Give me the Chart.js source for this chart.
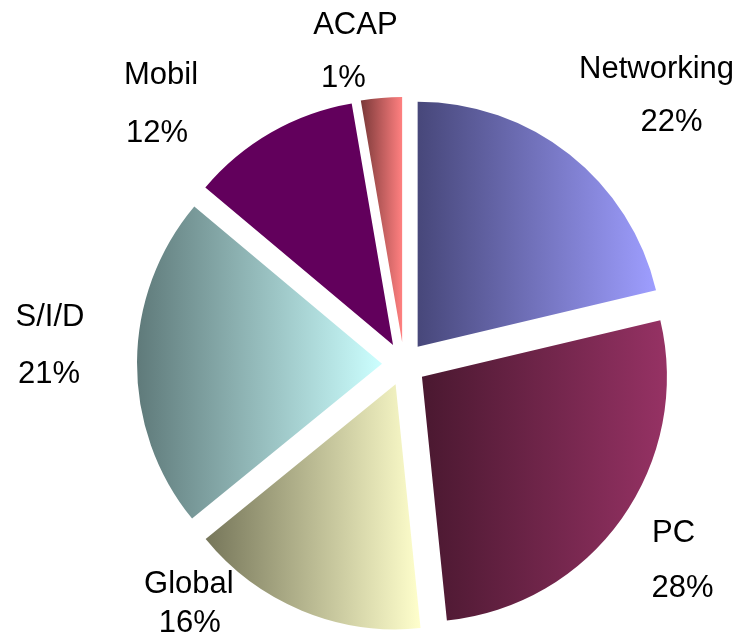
<!DOCTYPE html>
<html>
<head>
<meta charset="utf-8">
<title>Share by division</title>
<script src="https://cdn.jsdelivr.net/npm/chart.js@4/dist/chart.umd.min.js"></script>
<style>
  html, body { margin: 0; padding: 0; background: #fff; }
  #wrap { width: 747px; height: 641px; position: relative; }
</style>
</head>
<body>
<div id="wrap"><canvas id="chart"></canvas></div>
<script>
// ---- data ----
const categories = ['Networking', 'PC', 'Global', 'S/I/D', 'Mobil', 'ACAP'];
const shares = [21.3, 27.1, 15.75, 22.0, 11.2, 2.7];        // slice sizes as drawn
const shareLabels = ['22%', '28%', '16%', '21%', '12%', '1%']; // printed labels

// ---- style ----
const RADIUS = 245;
const EXPLODE = 22;
// [dark (left), light (right)] gradient ends per slice
const sliceColors = [
    ['#47477a', '#9e9eff'],
    ['#4a1830', '#963264'],
    ['#76765a', '#ffffcc'],
    ['#5f7a7a', '#ccffff'],
    ['#62005c', '#62005c'],
    ['#7a3838', '#ff8080']
];
// label line offsets from the slice's outer bisector point: [dx1, dy1, dx2, dy2]
const labelNudge = [
    [87, -77, 102, -24],
    [52, 23, 61, 78],
    [-113, -18, -112, 21],
    [-87, -36, -88, 21],
    [-110, -48, -114, 10],
    [-26, -64, -38, -11]
];

/* Pie slices pushed out from the centre by a fixed distance */
class ExplodedArc extends Chart.ArcElement {
    draw(ctx) {
        const mid = (this.startAngle + this.endAngle) / 2;
        ctx.save();
        ctx.translate(Math.cos(mid) * EXPLODE, Math.sin(mid) * EXPLODE);
        super.draw(ctx);
        ctx.restore();
    }
}
ExplodedArc.id = 'explodedArc';

class ExplodedPieController extends Chart.PieController {}
ExplodedPieController.id = 'explodedPie';
ExplodedPieController.defaults = { dataElementType: 'explodedArc' };

Chart.register(ExplodedArc, ExplodedPieController);

function sliceGradient(context) {
    const chart = context.chart;
    const area = chart.chartArea;
    const i = context.dataIndex;
    if (!area) return sliceColors[i][1];
    const total = shares.reduce((a, b) => a + b, 0);
    const before = shares.slice(0, i).reduce((a, b) => a + b, 0);
    const a0 = -Math.PI / 2 + before / total * 2 * Math.PI;
    const a1 = a0 + shares[i] / total * 2 * Math.PI;
    const cx = (area.left + area.right) / 2;
    const xs = [cx, cx + RADIUS * Math.cos(a0), cx + RADIUS * Math.cos(a1)];
    [0, Math.PI].forEach(k => { if (k >= a0 && k <= a1) xs.push(cx + RADIUS * Math.cos(k)); });
    const g = chart.ctx.createLinearGradient(Math.min(...xs), 0, Math.max(...xs), 0);
    g.addColorStop(0, sliceColors[i][0]);
    g.addColorStop(1, sliceColors[i][1]);
    return g;
}

const outerLabels = {
    id: 'outerLabels',
    afterDatasetsDraw(chart) {
        const ctx = chart.ctx;
        const meta = chart.getDatasetMeta(0);
        ctx.save();
        ctx.font = '31px "Liberation Sans", Arial, sans-serif';
        ctx.fillStyle = '#000';
        ctx.textAlign = 'center';
        ctx.textBaseline = 'alphabetic';
        meta.data.forEach((arc, i) => {
            const p = arc.getProps(['x', 'y', 'startAngle', 'endAngle', 'outerRadius'], true);
            const mid = (p.startAngle + p.endAngle) / 2;
            const px = p.x + Math.cos(mid) * (p.outerRadius + EXPLODE);
            const py = p.y + Math.sin(mid) * (p.outerRadius + EXPLODE);
            const n = labelNudge[i];
            ctx.fillText(categories[i], px + n[0], py + n[1]);
            ctx.fillText(shareLabels[i], px + n[2], py + n[3]);
        });
        ctx.restore();
    }
};

new Chart(document.getElementById('chart'), {
    type: 'explodedPie',
    data: {
        labels: categories,
        datasets: [{
            data: shares,
            backgroundColor: sliceGradient,
            borderWidth: 0,
            radius: RADIUS
        }]
    },
    options: {
        responsive: true,
        maintainAspectRatio: false,
        animation: false,
        events: [],
        layout: { padding: { left: 61, top: 87, right: 0, bottom: 0 } },
        plugins: { legend: { display: false }, tooltip: { enabled: false } }
    },
    plugins: [outerLabels]
});
</script>
</body>
</html>
